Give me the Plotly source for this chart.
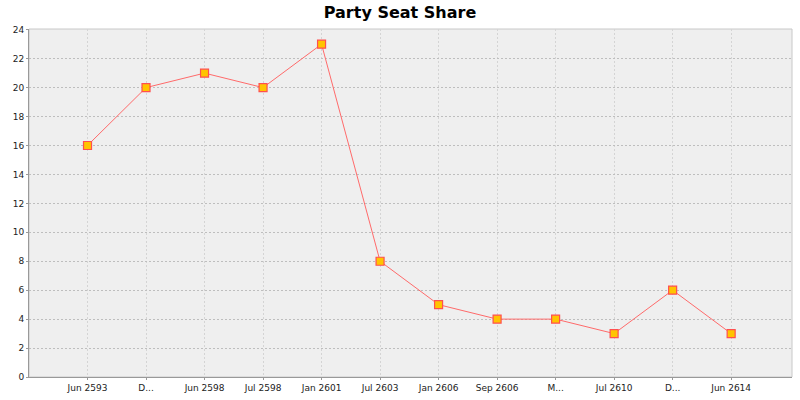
import plotly.graph_objects as go

labels = ["Jun 2593", "D...", "Jun 2598", "Jul 2598", "Jan 2601", "Jul 2603",
          "Jan 2606", "Sep 2606", "M...", "Jul 2610", "D...", "Jun 2614"]
seats = [16, 20, 21, 20, 23, 8, 5, 4, 4, 3, 6, 3]
positions = list(range(len(labels)))

fig = go.Figure()
fig.add_trace(go.Scatter(
    x=positions, y=seats, mode="lines+markers",
    line=dict(color="#FF6A6A", width=1),
    marker=dict(symbol="square", size=8, color="#FFC400",
                line=dict(color="#FF4F4F", width=1.2)),
    showlegend=False,
))

fig.update_layout(
    width=800, height=400,
    margin=dict(l=29, r=8, t=29, b=23),
    paper_bgcolor="white", plot_bgcolor="#EFEFEF",
    title=dict(text="<b>Party Seat Share</b>", x=0.5, xanchor="center",
               y=0.97, yanchor="middle",
               font=dict(family="DejaVu Sans", size=16, color="black")),
    font=dict(family="DejaVu Sans", size=9, color="#333333"),
)
fig.update_xaxes(
    range=[-1.0, 12.04], tickvals=positions, ticktext=labels,
    showgrid=True, gridcolor="#D4D4D4", griddash="2px,2px", gridwidth=1,
    showline=True, linecolor="#999999", linewidth=1, mirror=False,
    ticks="outside", ticklen=2, tickcolor="#999999", zeroline=False,
    tickfont=dict(size=9, color="#222222"),
)
fig.update_yaxes(
    range=[0, 24.05], dtick=2,
    showgrid=True, gridcolor="#BEBEBE", griddash="2px,2px", gridwidth=1,
    showline=True, linecolor="#999999", linewidth=1,
    ticks="outside", ticklen=2, tickcolor="#999999", zeroline=False,
    tickfont=dict(size=9, color="#222222"),
)
fig.add_shape(type="rect", xref="paper", yref="paper", x0=0, y0=0, x1=1, y1=1,
              line=dict(color="#C8C8C8", width=1), fillcolor="rgba(0,0,0,0)", layer="below")

fig.write_html("out.html", config={"displayModeBar": False},
               post_script="document.body.style.margin='0';")
